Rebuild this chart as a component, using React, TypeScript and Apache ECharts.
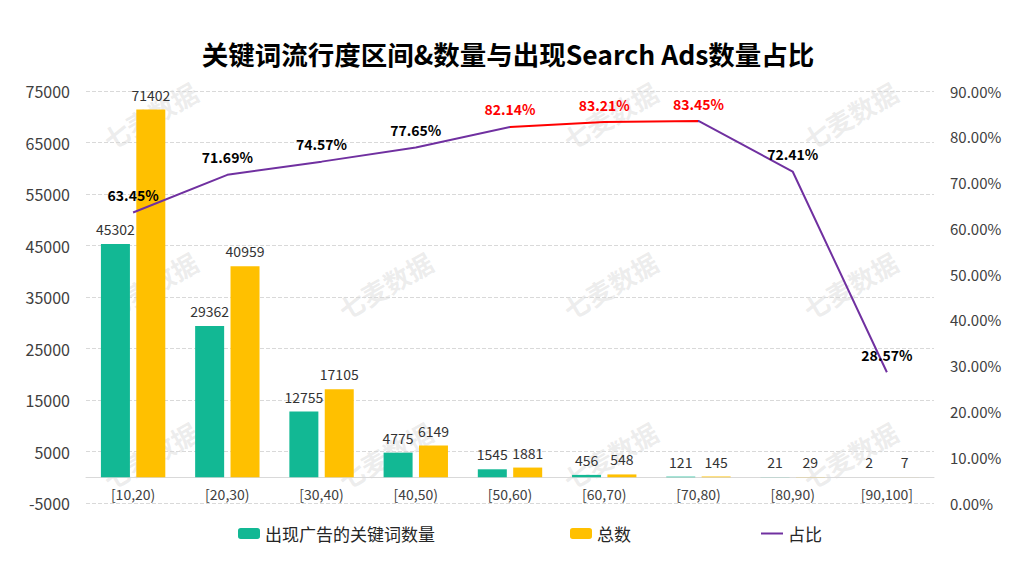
import React, { useEffect, useRef } from "react";
import * as echarts from "echarts";

const categories = ["[10,20)", "[20,30)", "[30,40)", "[40,50)", "[50,60)", "[60,70)", "[70,80)", "[80,90)", "[90,100]"];
const adKeywords = [45302, 29362, 12755, 4775, 1545, 456, 121, 21, 2];
const totals = [71402, 40959, 17105, 6149, 1881, 548, 145, 29, 7];
const ratios = [63.45, 71.69, 74.57, 77.65, 82.14, 83.21, 83.45, 72.41, 28.57];
const highlighted = [4, 5, 6];
const leftTicks = { min: -5000, max: 75000, interval: 10000 };
const rightTicks = { min: 0, max: 90, interval: 10 };

const FONT = '"Noto Sans CJK SC", "Noto Sans", sans-serif';

const watermarkSpots: [number, number][] = [
  [150, 115], [150, 285], [150, 455],
  [385, 285], [385, 455],
  [610, 115], [610, 285], [610, 455],
  [850, 115], [850, 285], [850, 455],
];

export default function App() {
  const ref = useRef<HTMLDivElement>(null);
  useEffect(() => {
    document.body.style.margin = "0";
    const chart = echarts.init(ref.current!, null, { renderer: "svg" });
    const legendText = { fontSize: 17, color: "#262626", fontFamily: FONT };
    const option: any = {
      animation: false,
      backgroundColor: "#ffffff",
      textStyle: { fontFamily: FONT },
      title: {
        text: "关键词流行度区间&数量与出现Search Ads数量占比",
        left: "center",
        top: 35,
        textStyle: { fontSize: 26.5, fontWeight: "bold", color: "#000", fontFamily: FONT },
      },
      graphic: watermarkSpots.map(([x, y]) => ({
        type: "text",
        x,
        y,
        rotation: Math.PI / 6,
        silent: true,
        z: 0,
        style: {
          text: "七麦数据",
          fill: "rgba(160,160,160,0.2)",
          font: `bold 26px ${FONT}`,
          textAlign: "center",
          textVerticalAlign: "middle",
        },
      })),
      legend: [
        {
          data: ["出现广告的关键词数量"], left: 233, top: 520, itemWidth: 22, itemHeight: 11,
          textStyle: legendText, itemGap: 4,
        },
        {
          data: ["总数"], left: 565, top: 520, itemWidth: 22, itemHeight: 11,
          textStyle: legendText,
        },
        {
          data: [{ name: "占比", icon: "rect", itemStyle: { color: "#7030A0", opacity: 1 } }],
          left: 756, top: 520, itemWidth: 22, itemHeight: 2,
          textStyle: legendText,
        },
      ],
      visualMap: {
        show: false,
        type: "piecewise",
        seriesIndex: 2,
        dimension: 0,
        pieces: [{ gte: highlighted[0], lte: highlighted[highlighted.length - 1], color: "#FF0000" }],
        outOfRange: { color: "#7030A0" },
      },
      grid: { left: 86, right: 82, top: 91, bottom: 62 },
      xAxis: {
        type: "category",
        data: categories,
        axisTick: { show: false },
        axisLine: { show: true, onZero: true, lineStyle: { color: "#d9d9d9", width: 1 } },
        axisLabel: { color: "#404040", fontSize: 14, margin: -16, fontFamily: FONT },
      },
      yAxis: [
        {
          type: "value",
          ...leftTicks,
          axisLine: { show: false },
          axisTick: { show: false },
          axisLabel: {
            color: "#404040", fontSize: 16, margin: 16, fontFamily: FONT,
            formatter: (v: number) => String(v),
          },
          splitLine: { lineStyle: { color: "#d9d9d9", type: "dashed" } },
        },
        {
          type: "value",
          ...rightTicks,
          axisLine: { show: false },
          axisTick: { show: false },
          axisLabel: {
            color: "#404040", fontSize: 15, margin: 16, fontFamily: FONT,
            formatter: (v: number) => v.toFixed(2) + "%",
          },
          splitLine: { show: false },
        },
      ],
      series: [
        {
          name: "出现广告的关键词数量",
          type: "bar",
          data: adKeywords,
          barWidth: 29,
          barGap: "22%",
          itemStyle: { color: "#12B894" },
          label: { show: true, position: "top", color: "#333", fontSize: 14, fontFamily: FONT, distance: 8 },
          z: 2,
        },
        {
          name: "总数",
          type: "bar",
          data: totals,
          barWidth: 29,
          itemStyle: { color: "#FFC000" },
          label: { show: true, position: "top", color: "#333", fontSize: 14, fontFamily: FONT, distance: 8 },
          z: 2,
        },
        {
          name: "占比",
          type: "line",
          yAxisIndex: 1,
          symbol: "circle",
          symbolSize: 1,
          showSymbol: true,
          itemStyle: { color: "#7030A0", opacity: 0 },
          lineStyle: { width: 2, opacity: 1 },
          z: 3,
          data: ratios.map((v, i) => ({
            value: v,
            label: { color: highlighted.includes(i) ? "#FF0000" : "#000" },
          })),
          label: {
            show: true,
            opacity: 1,
            position: "top",
            distance: 10,
            fontSize: 14,
            fontWeight: "bold",
            fontFamily: FONT,
            formatter: (p: any) => Number(p.value).toFixed(2) + "%",
          },
        },
      ],
    };
    chart.setOption(option);
    return () => chart.dispose();
  }, []);
  return <div ref={ref} style={{ width: 1016, height: 565 }} />;
}
